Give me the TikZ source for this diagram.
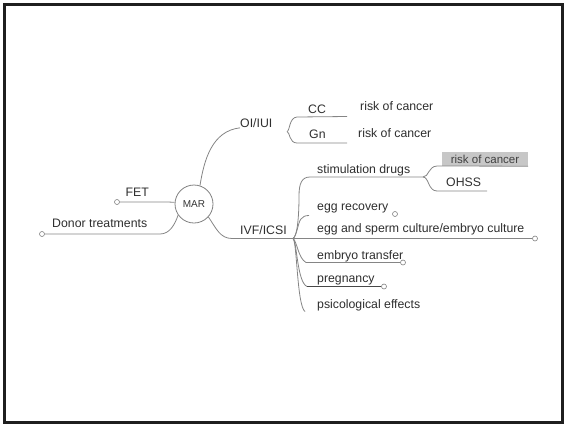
\documentclass[tikz,border=0pt]{standalone}
\usepackage{fontspec}
\setmainfont{Liberation Sans}
\begin{document}
\begin{tikzpicture}[x=1pt,y=-1pt,
  conn/.style={draw=black!48, line width=0.8pt},
  darkconn/.style={draw=black!72, line width=1.4pt},
  txt/.style={anchor=base west, inner sep=0pt, font=\fontsize{12.3}{14.5}\selectfont, text=black!82},
  endc/.style={circle, draw=black!50, fill=white, line width=0.6pt, inner sep=0pt, minimum size=5pt},
  hub/.style={circle, draw=black!50, line width=0.8pt, minimum size=38pt, inner sep=0pt, font=\fontsize{10}{12}\selectfont, text=black!80},
  hilite/.style={fill=black!22, inner sep=0pt, minimum width=86pt, minimum height=14pt, font=\fontsize{11.5}{13}\selectfont, text=black!75}]
\useasboundingbox (0,0) rectangle (564,424);
\draw[line width=2.6pt, black!88] (4.5,4.5) rectangle (562.5,422.5);

% central hub
\node[hub] (mar) at (194,204) {MAR};

% left branches
\node[txt] (fet) at (125.5,196.5) {FET};
\node[endc] (fetc) at (117,202) {};
\draw[conn] (fetc) -- (165,202) .. controls (171,202) and (173,202.3) .. (mar.175);

\node[txt] (donor) at (52,227.5) {Donor treatments};
\node[endc] (donorc) at (42,234) {};
\draw[conn] (donorc) -- (160,234) .. controls (170,234) and (175,224) .. (mar.215);

% OI/IUI branch
\node[txt] (oi) at (240,127.5) {OI/IUI};
\draw[conn] (mar.72) .. controls (204,160) and (212,131) .. (oi.south west);
\coordinate (oib) at (287,131.5);
\node[txt] (cc) at (308,113.5) {CC};
\node[txt] (gn) at (309,138.5) {Gn};
\coordinate (ccE) at (347,116.5);
\coordinate (gnE) at (347,143);
\draw[conn] (oib) .. controls (290,131) and (289,117.5) .. (297,117) -- (ccE);
\draw[conn] (oib) .. controls (290,132) and (289,143) .. (297,143) -- (gnE);
\node[txt] (risk1) at (360,110.5) {risk of cancer};
\node[txt] (risk2) at (358,137.5) {risk of cancer};

% IVF/ICSI branch
\node[txt] (ivf) at (240,234) {IVF/ICSI};
\coordinate (J) at (293,238.5);
\draw[conn] (mar.318) .. controls (216,228) and (220,238.5) .. (232,238.5) -- (J);

% stimulation drugs
\node[txt] (stim) at (317,173.5) {stimulation drugs};
\coordinate (K) at (423,177);
\draw[conn] (J) .. controls (297.5,236) and (299,215) .. (299,196) .. controls (299,183) and (302,177) .. (310,177) -- (K);
\node[hilite] (risk3) at (485,159) {risk of cancer};
\draw[conn] (K) .. controls (429,177) and (428,166.5) .. (437,166) -- (risk3.south east);
\node[txt] (ohss) at (446,186.5) {OHSS};
\coordinate (ohssE) at (487,191);
\draw[conn] (K) .. controls (429,177) and (428,191) .. (437,191) -- (ohssE);

% egg recovery
\node[txt] (eggr) at (317,210.5) {egg recovery};
\node[endc] (eggrc) at (395,214) {};
\coordinate (eggrS) at (309,215.5);
\draw[conn] (J) .. controls (297,236) and (298,222) .. (301,219) .. controls (303,216.5) and (305,215.5) .. (eggrS);

% egg and sperm culture
\node[txt] (eggs) at (317,232.5) {egg and sperm culture/embryo culture};
\node[endc] (eggsc) at (535,238.5) {};
\draw[conn] (J) -- (eggsc);

% embryo transfer
\node[txt] (emb) at (317,259.5) {embryo transfer};
\node[endc] (embc) at (403,262.5) {};
\draw[conn] (J) .. controls (297,241) and (298,258) .. (306,262.5) -- (embc);

% pregnancy
\node[txt] (preg) at (317,282) {pregnancy};
\node[endc] (pregc) at (384,286.5) {};
\coordinate (pregS) at (307,286.5);
\draw[conn] (J) .. controls (297,241) and (297,282) .. (pregS);
\draw[darkconn] (pregS) -- (pregc);

% psicological effects
\node[txt] (psi) at (317,308) {psicological effects};
\coordinate (psiE) at (305,311.5);
\draw[conn] (J) .. controls (297,241) and (297,306) .. (psiE);
\end{tikzpicture}
\end{document}
